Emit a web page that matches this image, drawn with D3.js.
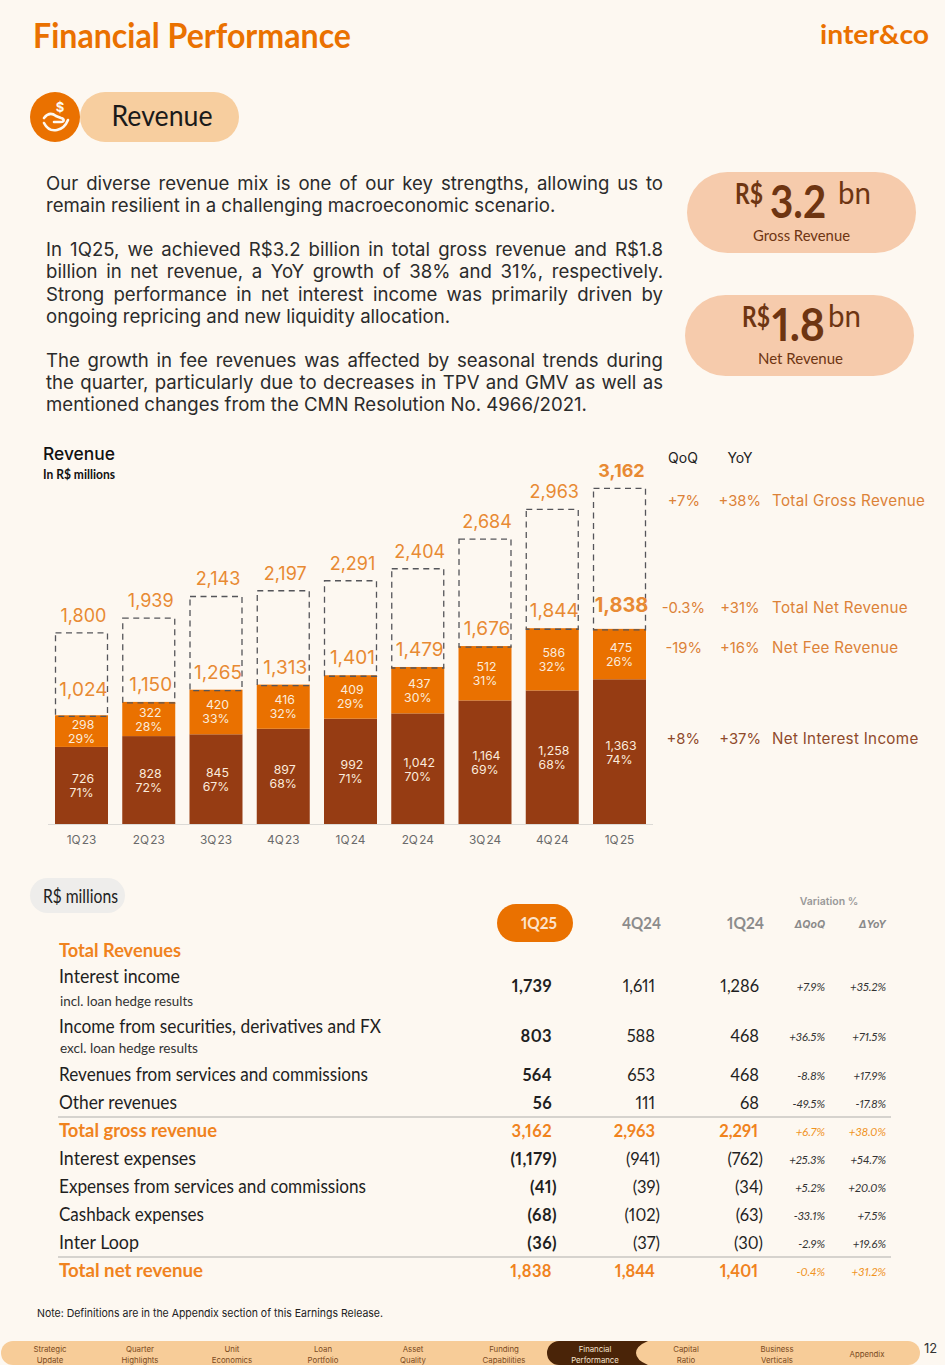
<!DOCTYPE html>
<html><head><meta charset="utf-8">
<script src="https://cdn.jsdelivr.net/npm/d3@7"></script>
<style>html,body{margin:0;padding:0;background:#FDF8F1}svg{display:block}text{font-variant-numeric:proportional-nums}</style>
</head><body><svg id="c" width="945" height="1365"></svg>
<script>
// ---- chart data
const quarters = ["1Q23","2Q23","3Q23","4Q23","1Q24","2Q24","3Q24","4Q24","1Q25"];
const quarterLabels = ["1Q 23","2Q 23","3Q 23","4Q 23","1Q 24","2Q 24","3Q 24","4Q 24","1Q 25"];
const netInterest = [726,828,845,897,992,1042,1164,1258,1363];
const netInterestPct = [71,72,67,68,71,70,69,68,74];
const netFee = [298,322,420,416,409,437,512,586,475];
const netFeePct = [29,28,33,32,29,30,31,32,26];
const netRevenue = [1024,1150,1265,1313,1401,1479,1676,1844,1838];
const grossRevenue = [1800,1939,2143,2197,2291,2404,2684,2963,3162];
// ---- side table beside the chart
const sideQoQ = ["+7%","-0.3%","-19%","+8%"];
const sideYoY = ["+38%","+31%","+16%","+37%"];
const sideNames = ["Total Gross Revenue","Total Net Revenue","Net Fee Revenue","Net Interest Income"];
// ---- lower table
const rowNames = ["Interest income","Income from securities, derivatives and FX","Revenues from services and commissions","Other revenues","Total gross revenue","Interest expenses","Expenses from services and commissions","Cashback expenses","Inter Loop","Total net revenue"];
const col1Q25 = ["1,739","803","564","56","3,162","(1,179)","(41)","(68)","(36)","1,838"];
const col4Q24 = ["1,611","588","653","111","2,963","(941)","(39)","(102)","(37)","1,844"];
const col1Q24 = ["1,286","468","468","68","2,291","(762)","(34)","(63)","(30)","1,401"];
const colQoQ = ["+7.9%","+36.5%","-8.8%","-49.5%","+6.7%","+25.3%","+5.2%","-33.1%","-2.9%","-0.4%"];
const colYoY = ["+35.2%","+71.5%","+17.9%","-17.8%","+38.0%","+54.7%","+20.0%","+7.5%","+19.6%","+31.2%"];
// ---- copy
const bodyLines = [
 ["Our diverse revenue mix is one of our key strengths, allowing us to",1],
 ["remain resilient in a challenging macroeconomic scenario.",0],
 ["",0],
 ["In 1Q25, we achieved R$3.2 billion in total gross revenue and R$1.8",1],
 ["billion in net revenue, a YoY growth of 38% and 31%, respectively.",1],
 ["Strong performance in net interest income was primarily driven by",1],
 ["ongoing repricing and new liquidity allocation.",0],
 ["",0],
 ["The growth in fee revenues was affected by seasonal trends during",1],
 ["the quarter, particularly due to decreases in TPV and GMV as well as",1],
 ["mentioned changes from the CMN Resolution No. 4966/2021.",0]];
const navItems = [["Strategic","Update"],["Quarter","Highlights"],["Unit","Economics"],["Loan","Portfolio"],["Asset","Quality"],["Funding","Capabilities"],["Financial","Performance"],["Capital","Ratio"],["Business","Verticals"],["Appendix"]];

const ORANGE="#EA7100", BROWN="#963C13", DARK="#6E3512";
const svg=d3.select("#c");
const HEAD="Lato, 'Open Sans', sans-serif", SANS="Inter, 'Noto Sans', sans-serif";
svg.append("rect").attr("width",945).attr("height",1365).attr("fill","#FDF8F1");

function T(x,y,s,o={}){
  const t=svg.append("text").attr("x",x).attr("y",y).text(s)
   .attr("font-family",o.f||SANS).attr("font-size",o.s||14).attr("fill",o.c||"#2b2b2b")
   .attr("font-weight",o.w||400).attr("text-anchor",o.a||"start");
  if(o.i) t.attr("font-style","italic");
  if(o.ls) t.attr("letter-spacing",o.ls);
  if(o.ws) t.attr("word-spacing",o.ws);
  if(o.fit){t.attr("textLength",o.fit).attr("lengthAdjust","spacingAndGlyphs");}
  return t;
}
// header
T(33,48,"Financial Performance",{f:HEAD,s:34,c:ORANGE,w:700,fit:318});
T(820,44,"inter&co",{f:HEAD,s:27,c:ORANGE,w:700,fit:109});
svg.append("ellipse").attr("cx",55).attr("cy",117).attr("rx",25).attr("ry",25).attr("fill",ORANGE);
svg.append("path").attr("d","M44 118c4-5 8-5 12-2l5 2c4 1 3 4 0 4h-7m-10 1c3 6 8 8 13 7 5-1 9-5 11-10").attr("fill","none").attr("stroke","#FDF8F1").attr("stroke-width",2.6).attr("stroke-linecap","round");
T(60,112,"$",{s:13,c:"#FDF8F1",w:700,a:"middle"});
svg.append("rect").attr("x",80).attr("y",92).attr("width",159).attr("height",50).attr("rx",25).attr("fill","#F7CE9F");
T(162,126,"Revenue",{f:HEAD,s:28,c:"#1a1a1a",a:"middle",fit:101});

// body copy
bodyLines.forEach((l,i)=>{
  if(!l[0])return;
  const y=190+i*22.1;
  const t=T(46,y,l[0],{s:18.6,c:"#2b2b2b"});
  if(l[1]){const w=t.node().getComputedTextLength();const n=l[0].split(" ").length-1;t.attr("word-spacing",(617-w)/n);}
});

// KPI pills
const kpis=[
 {px:687,py:172,big:"3.2",sub:"Gross Revenue",rx:735,bx:770,bw:56,nx:838,sx:753,sw:97},
 {px:685,py:295,big:"1.8",sub:"Net Revenue",rx:742,bx:772,bw:53,nx:828,sx:758,sw:85}];
kpis.forEach(d=>{
  svg.append("rect").attr("x",d.px).attr("y",d.py).attr("width",229).attr("height",81).attr("rx",40.5).attr("fill","#F6CBAC");
  T(d.rx,d.py+32,"R$",{f:HEAD,s:29,c:DARK,w:700,fit:28});
  T(d.bx,d.py+46,d.big,{f:HEAD,s:46,c:DARK,w:700,fit:d.bw});
  T(d.nx,d.py+32,"bn",{f:HEAD,s:31,c:DARK,w:400,fit:33});
  T(d.sx,d.py+69,d.sub,{f:HEAD,s:15.5,c:DARK,fit:d.sw});
});

// chart
T(43,459.5,"Revenue",{s:17.5,c:"#111",w:500,fit:72});
T(43,479,"In R$ millions",{f:HEAD,s:13,c:"#111",w:700,fit:72});
const x=d3.scaleBand().domain(quarters).range([55,646]).paddingInner(.212).paddingOuter(0);
const y=d3.scaleLinear().domain([0,3162]).range([824,488.3]);
const bw=x.bandwidth();
const g=svg.append("g");
const data=quarters.map((q,i)=>({q,i,ni:netInterest[i],nip:netInterestPct[i],nf:netFee[i],nfp:netFeePct[i],net:netRevenue[i],gross:grossRevenue[i]}));
g.selectAll("rect.ni").data(data).join("rect").attr("class","ni").attr("x",d=>x(d.q)).attr("width",bw).attr("y",d=>y(d.ni)).attr("height",d=>y(0)-y(d.ni)).attr("fill",BROWN);
g.selectAll("rect.nf").data(data).join("rect").attr("class","nf").attr("x",d=>x(d.q)).attr("width",bw).attr("y",d=>y(d.ni+d.nf)).attr("height",d=>y(d.ni)-y(d.ni+d.nf)).attr("fill",ORANGE);
g.selectAll("rect.gross").data(data).join("rect").attr("class","gross").attr("x",d=>x(d.q)+.5).attr("width",bw-1).attr("y",d=>y(d.gross)).attr("height",d=>y(d.net)-y(d.gross)+1)
 .attr("fill","none").attr("stroke","#55555a").attr("stroke-width",1.3).attr("stroke-dasharray","6 4.5");
const axis=d3.axisBottom(x).tickSize(0).tickPadding(12).tickFormat((q,i)=>quarterLabels[i]);
const ax=g.append("g").attr("transform","translate(0,824)").call(axis);
ax.select(".domain").remove();
g.insert("line",":first-child").attr("x1",48).attr("x2",653).attr("y1",824.5).attr("y2",824.5).attr("stroke","#dcdad6").attr("stroke-width",1);
ax.selectAll("text").attr("font-family",SANS).attr("font-size",11.8).attr("fill","#6a6a6a").attr("word-spacing",-2);

function lab(cls,fy,ft,opt){
  g.selectAll("text."+cls).data(data).join("text").attr("class",cls).attr("x",d=>x(d.q)+bw/2+(opt.dx||0)).attr("y",fy).text(ft)
   .attr("text-anchor","middle").attr("font-family",SANS).attr("font-size",d=>opt.bold&&d.i===8?(opt.bs||opt.s):opt.s).attr("fill",opt.c).attr("font-weight",d=>opt.bold&&d.i===8?700:400);
}
const CREAM="#FBEBDC";
const midNI=d=>(y(d.ni)+y(0))/2, midNF=d=>(y(d.ni+d.nf)+y(d.ni))/2;
lab("l1",d=>midNI(d)-2,d=>d3.format(",")(d.ni),{s:12.3,c:CREAM,dx:1.5});
lab("l2",d=>midNI(d)+12,d=>d.nip+"%",{s:12.3,c:CREAM});
lab("l3",d=>midNF(d)-2.5,d=>d.nf,{s:12.3,c:CREAM,dx:1.5});
lab("l4",d=>midNF(d)+11.5,d=>d.nfp+"%",{s:12.3,c:CREAM});
// the first and last net labels sit higher above their bars in the reference
lab("l5",d=>y(d.net)-((d.i===0)?19:(d.i===8)?17:11),d=>d3.format(",")(d.net),{s:19,bs:20,c:"#E88A33",bold:true,dx:2});
lab("l6",d=>y(d.gross)-11,d=>d3.format(",")(d.gross),{s:18,c:"#E88A33",bold:true,dx:2});

// side table
T(683,462.5,"QoQ",{s:14,c:"#222",a:"middle"});
T(740,462.5,"YoY",{s:14,c:"#222",a:"middle"});
const sideY=[506,613,653,744], sideQR=[700,705,702,700], sideYR=[761,759.5,759.5,761];
const sideC=["#DC8238","#DC8238","#DC8238","#8F4A2B"];
sideNames.forEach((n,i)=>{
  T(sideQR[i],sideY[i],sideQoQ[i],{s:14.8,c:sideC[i],a:"end"});
  T(sideYR[i],sideY[i],sideYoY[i],{s:14.8,c:sideC[i],a:"end"});
  T(772,sideY[i],n,{s:15.2,c:sideC[i],ls:.3});
});

// lower table
svg.append("rect").attr("x",30).attr("y",878).attr("width",95).attr("height",35).attr("rx",17.5).attr("fill","#EEEDEB");
T(43,903,"R$ millions",{f:HEAD,s:19,c:"#222",fit:75});
T(829,905,"Variation %",{s:10.5,c:"#999",a:"middle",w:600});
svg.append("rect").attr("x",497).attr("y",904).attr("width",76).attr("height",38).attr("rx",19).attr("fill",ORANGE);
T(521,929,"1Q25",{f:HEAD,s:17,c:"#FCE3CC",w:700,fit:36});
T(622,929,"4Q24",{f:HEAD,s:17,c:"#8c8c8c",w:700,fit:39});
T(727,929,"1Q24",{f:HEAD,s:17,c:"#8c8c8c",w:700,fit:37});
T(825,928,"ΔQoQ",{s:10.5,c:"#8a8a8a",a:"end",i:1,w:700});
T(886,928,"ΔYoY",{s:10.5,c:"#8a8a8a",a:"end",i:1,w:700});
T(59,957,"Total Revenues",{f:HEAD,s:18,c:"#F0831E",w:700,fit:122});
const rowLabelY=[983,1033,1081,1109,1137,1165,1193,1221,1249,1277];
const rowValY=[992,1042,1081,1109,1137,1165,1193,1221,1249,1277];
const rowFit=[121,322,309,118,158,137,307,145,80,144];
const isTot=i=>i===4||i===9;
rowNames.forEach((n,i)=>{
  const c=isTot(i)?"#F0831E":"#1f1f1f", w=isTot(i)?700:400;
  T(59,rowLabelY[i],n,{f:HEAD,s:18.5,c,w,fit:rowFit[i]});
  const par=col1Q25[i].startsWith("(");
  T(par?557:552,rowValY[i],col1Q25[i],{f:HEAD,s:16.5,c,w:700,a:"end",ls:.4});
  T(par?660:655,rowValY[i],col4Q24[i],{f:HEAD,s:16.5,c,w,a:"end"});
  T(par?763:(isTot(i)?758:759),rowValY[i],col1Q24[i],{f:HEAD,s:16.5,c,w,a:"end"});
  T(825,rowValY[i]-1,colQoQ[i],{f:HEAD,s:11.5,c:isTot(i)?"#F0931E":"#333",a:"end",i:1});
  T(886,rowValY[i]-1,colYoY[i],{f:HEAD,s:11.5,c:isTot(i)?"#F0931E":"#333",a:"end",i:1});
});
T(60,1006,"incl. loan hedge results",{f:HEAD,s:13,c:"#333",fit:133});
T(60,1053,"excl. loan hedge results",{f:HEAD,s:13,c:"#333",fit:138});
[1117,1257].forEach(v=>svg.append("line").attr("x1",58).attr("x2",891).attr("y1",v).attr("y2",v).attr("stroke","#c9c7c2").attr("stroke-width",1.5));

T(37,1317,"Note: Definitions are in the Appendix section of this Earnings Release.",{s:11,c:"#222",fit:346});

// nav bar
svg.append("rect").attr("x",1).attr("y",1341).attr("width",919).attr("height",24).attr("rx",12).attr("fill","#F7CC98");
const navX=[50,140,232,323,413,504,595,686,777,867];
svg.append("path").attr("d","M559 1341H648Q636 1346 636 1353Q636 1360 648 1365H559A12 12 0 0 1 559 1341Z").attr("fill","#4A2408");
navItems.forEach((n,i)=>{
  const c=i===6?"#F5E3CF":"#7A4A22";
  if(n.length===2){T(navX[i],1352,n[0],{s:7.8,c,a:"middle"});T(navX[i],1363,n[1],{s:7.8,c,a:"middle"});}
  else T(navX[i],1357,n[0],{s:7.8,c,a:"middle"});
});
T(924,1353,"12",{s:13,c:"#333"});
</script></body></html>
